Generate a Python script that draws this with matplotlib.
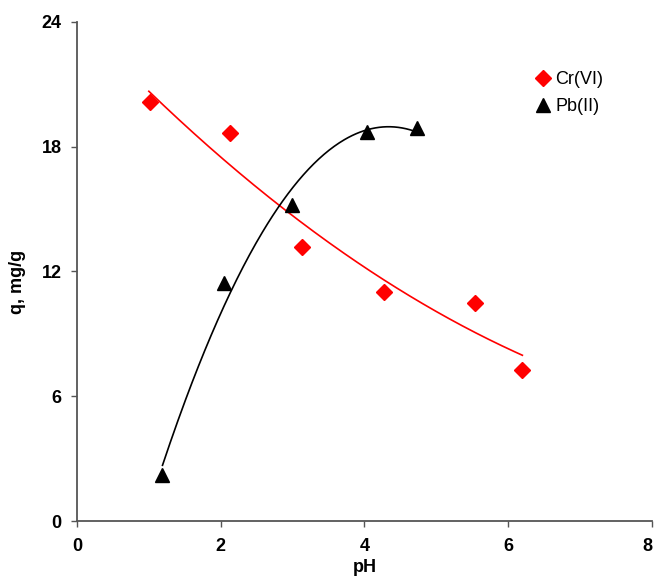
import numpy as np
import matplotlib
matplotlib.use("Agg")
from matplotlib import pyplot as plt
from matplotlib import transforms

# values
cr_ph = [1.01, 2.13, 3.13, 4.27, 5.54, 6.19]
cr_q = [20.15, 18.65, 13.2, 11.0, 10.5, 7.25]
pb_ph = [1.19, 2.04, 2.99, 4.04, 4.74]
pb_q = [2.2, 11.45, 15.2, 18.7, 18.9]

xticks = [0, 2, 4, 6, 8]
yticks = [0, 6, 12, 18, 24]

plt.rcParams['font.family'] = ['Liberation Sans', 'DejaVu Sans']

fig = plt.figure(figsize=(6.56, 5.77), dpi=100)
ax = fig.add_axes([0.1174, 0.097, 0.876, 0.865])

# polynomial trend lines fitted to the data (like spreadsheet trendlines)
cr_c = np.polyfit(cr_ph, cr_q, 2)
xs = np.linspace(1.0, 6.2, 200)
ax.plot(xs, np.polyval(cr_c, xs), color='red', lw=1.2)

pb_c = np.polyfit(pb_ph, pb_q, 2)
xs2 = np.linspace(1.19, 4.74, 200)
ax.plot(xs2, np.polyval(pb_c, xs2), color='black', lw=1.2)

ax.plot(cr_ph, cr_q, 'D', color='red', ms=8, ls='none', label='Cr(VI)')
ax.plot(pb_ph, pb_q, '^', color='black', ms=10, ls='none', label='Pb(II)')

ax.set_xlim(0, 8)
ax.set_ylim(0, 24)
ax.set_xticks(xticks)
ax.set_yticks(yticks)
for s in ['top', 'right']:
    ax.spines[s].set_visible(False)
for s in ['left', 'bottom']:
    ax.spines[s].set_color('#555555')
    ax.spines[s].set_linewidth(1.3)
ax.tick_params(direction='out', length=4, width=1, color='#555555',
               labelsize=13)
ax.tick_params(axis='x', pad=8)
ax.tick_params(axis='y', pad=7)
for lab in ax.get_xticklabels() + ax.get_yticklabels():
    lab.set_fontweight('bold')
# keep the last x label inside the canvas
last = ax.get_xticklabels()[-1]
last.set_transform(last.get_transform() +
                   transforms.ScaledTranslation(-4 / 100, 0, fig.dpi_scale_trans))

ax.set_xlabel('pH', fontsize=13, fontweight='bold', labelpad=3)
ax.set_ylabel('q, mg/g', fontsize=13, fontweight='bold', labelpad=10)
ax.yaxis.set_label_coords(-0.088, 0.48)

ax.legend(loc='upper left', bbox_to_anchor=(0.786, 0.905), bbox_transform=fig.transFigure,
          frameon=False, fontsize=13, handletextpad=0.1, labelspacing=0.55,
          handlelength=1.2)

plt.savefig('out.png', dpi=100)
